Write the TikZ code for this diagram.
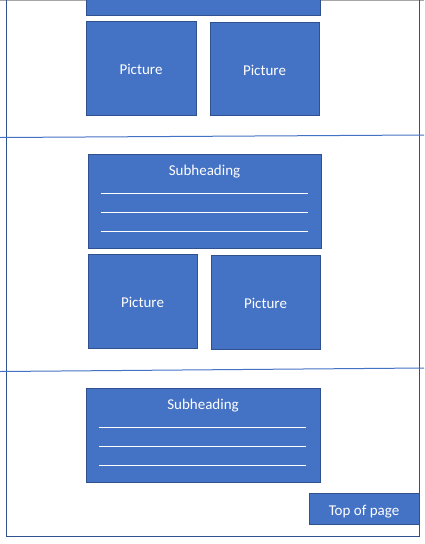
\documentclass[tikz,border=0pt]{standalone}
\usepackage{fontspec}
\setmainfont{Carlito}
\usepackage{tikz}
\usepackage{xcolor}
\definecolor{boxblue}{HTML}{4472C4}
\definecolor{edgeblue}{HTML}{2F528F}
\tikzset{
    blue-box/.style = {draw=edgeblue, fill=boxblue, line width=0.9pt, rectangle, inner sep=0pt},
    pic-box/.style = {blue-box, minimum width=109pt, minimum height=94pt, text=white, font=\fontsize{15}{17}\selectfont, text height=13pt, text depth=0pt},
    sub-box/.style = {blue-box, minimum width=233pt, minimum height=94pt},
    sub-title/.style = {text=white, font=\fontsize{15}{17}\selectfont, inner sep=0pt, text height=13pt, text depth=0pt},
    text-rule/.style = {draw=white, line width=0.8pt},
    page-frame/.style = {draw=edgeblue, line width=0.9pt},
    section-rule/.style = {draw=boxblue, line width=1pt},
}

\begin{document}
\begin{tikzpicture}[x=1pt, y=-1pt]
\useasboundingbox (0,0) rectangle (424,544);
\fill[white] (0,0) rectangle (424,544);

% page frame and section lines
\draw[gray!70, line width=1.2pt] (0,0.6) -- (424,0.6);
\draw[page-frame] (6,0) -- (6,536) -- (419,536) -- (419,0);
\draw[section-rule] (0,137.5) -- (424,135);
\draw[section-rule] (0,371.5) -- (424,368);

% first section (cut off at top)
\node [blue-box, minimum width=234pt, minimum height=40pt] (bar) at (203,-5) {};
\node [pic-box, minimum width=110pt] (pic11) at (141,68) {Picture};
\node [pic-box, minimum height=93pt] (pic12) at (264.5,68.5) {Picture};

% second section
\node [sub-box] (sub1) at (204.5,201) {};
\node [sub-title] at ([yshift=-15.5pt]sub1.north) {Subheading};
\foreach \d in {40,59,78}
    \draw[text-rule] ([xshift=13pt,yshift=-\d pt]sub1.north west) -- ([xshift=-13pt,yshift=-\d pt]sub1.north east);
\node [pic-box] (pic21) at (142.5,301) {Picture};
\node [pic-box] (pic22) at (265.5,302) {Picture};

% third section
\node [sub-box, minimum width=234pt] (sub2) at (203,435) {};
\node [sub-title] at ([yshift=-15.5pt]sub2.north) {Subheading};
\foreach \d in {40,59,78}
    \draw[text-rule] ([xshift=13pt,yshift=-\d pt]sub2.north west) -- ([xshift=-14pt,yshift=-\d pt]sub2.north east);

% back to top
\node [pic-box, minimum width=110pt, minimum height=31pt] (top) at (364,508.5) {Top of page};
\end{tikzpicture}
\end{document}
